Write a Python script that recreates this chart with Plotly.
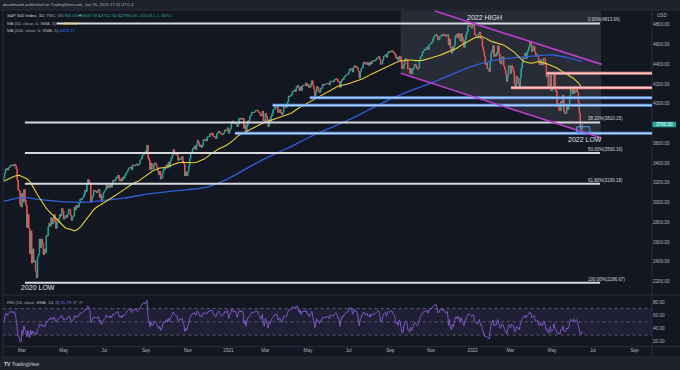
import numpy as np
import pandas as pd
import plotly.graph_objects as go

W, H = 680, 370

# ---------------- data (S&P 500 daily closes, read/estimated) ----------------
warm_close = [3122, 3120, 3108, 3104, 3110, 3134, 3141, 3153, 3141,
              3114, 3093, 3113, 3117, 3146, 3136, 3133, 3142, 3169, 3169, 3191, 3192, 3191, 3206, 3221, 3224, 3223, 3240, 3240, 3221, 3231,
              3258, 3235, 3246, 3237, 3253, 3275, 3265, 3288, 3283, 3289, 3317, 3330, 3321, 3321, 3326, 3295, 3244, 3276, 3273, 3284, 3226]

close_2020 = [
    3248, 3298, 3335, 3345, 3328, 3352, 3358, 3379, 3374, 3380, 3370, 3386, 3373, 3338, 3226, 3128, 3116, 2979, 2954,
    3090, 3003, 3130, 3024, 2972, 2747, 2882, 2741, 2481, 2711, 2386, 2529, 2398, 2409, 2305, 2237, 2447, 2476, 2630, 2541, 2627, 2585,
    2471, 2527, 2489, 2664, 2659, 2750, 2790, 2762, 2846, 2783, 2800, 2875, 2823, 2737, 2799, 2798, 2837, 2878, 2863, 2940, 2912,
    2831, 2843, 2868, 2849, 2882, 2930, 2930, 2870, 2820, 2852, 2864, 2954, 2923, 2972, 2949, 2955, 2992, 3036, 3030, 3044,
    3056, 3081, 3123, 3112, 3194, 3232, 3207, 3190, 3002, 3041, 3067, 3125, 3114, 3116, 3098, 3118, 3131, 3050, 3084, 3009, 3053, 3100,
    3116, 3130, 3180, 3145, 3169, 3152, 3185, 3155, 3197, 3227, 3216, 3225, 3251, 3258, 3276, 3236, 3216, 3239, 3218, 3258, 3246, 3271,
    3295, 3306, 3327, 3349, 3351, 3360, 3333, 3380, 3373, 3373, 3382, 3390, 3375, 3386, 3397, 3431, 3443, 3479, 3485, 3508, 3500,
    3527, 3580, 3455, 3427, 3331, 3399, 3340, 3341, 3383, 3401, 3385, 3357, 3319, 3281, 3315, 3237, 3246, 3298, 3351, 3335, 3363,
    3381, 3348, 3408, 3361, 3419, 3446, 3477, 3535, 3512, 3489, 3483, 3484, 3427, 3443, 3436, 3453, 3465, 3401, 3391, 3271, 3310, 3270,
    3310, 3370, 3443, 3510, 3509, 3550, 3545, 3573, 3537, 3585, 3627, 3610, 3568, 3582, 3558, 3578, 3635, 3630, 3638, 3622,
    3662, 3669, 3666, 3699, 3692, 3702, 3673, 3668, 3663, 3647, 3695, 3702, 3722, 3709, 3695, 3687, 3690, 3703, 3735, 3727, 3732, 3756]

close_2021 = [
    3701, 3726, 3748, 3804, 3825, 3799, 3801, 3810, 3795, 3768, 3798, 3852, 3853, 3841, 3855, 3850, 3750, 3787, 3714,
    3774, 3826, 3830, 3872, 3887, 3915, 3911, 3910, 3916, 3934, 3933, 3932, 3913, 3907, 3877, 3881, 3925, 3829, 3811,
    3901, 3871, 3820, 3768, 3842, 3821, 3875, 3898, 3939, 3943, 3969, 3963, 3974, 3915, 3913, 3940, 3911, 3889, 3910, 3975, 3971, 3959, 3973,
    4020, 4078, 4074, 4080, 4097, 4129, 4128, 4142, 4125, 4170, 4185, 4163, 4135, 4173, 4135, 4180, 4188, 4187, 4184, 4211, 4181,
    4192, 4164, 4168, 4201, 4233, 4189, 4153, 4063, 4113, 4174, 4164, 4128, 4116, 4159, 4156, 4197, 4188, 4196, 4200, 4204,
    4202, 4208, 4192, 4230, 4227, 4227, 4220, 4239, 4247, 4255, 4246, 4224, 4222, 4166, 4224, 4246, 4241, 4266, 4281, 4291, 4292, 4298,
    4320, 4352, 4344, 4358, 4321, 4370, 4385, 4369, 4375, 4360, 4327, 4259, 4323, 4359, 4368, 4412, 4422, 4402, 4401, 4419, 4395,
    4387, 4423, 4402, 4429, 4437, 4432, 4437, 4447, 4460, 4468, 4479, 4449, 4400, 4406, 4442, 4480, 4486, 4497, 4470, 4509, 4529, 4523,
    4524, 4537, 4535, 4520, 4514, 4493, 4459, 4469, 4443, 4481, 4474, 4433, 4358, 4355, 4396, 4449, 4455, 4443, 4353, 4360, 4308,
    4357, 4301, 4346, 4364, 4400, 4391, 4361, 4351, 4364, 4438, 4471, 4486, 4520, 4537, 4550, 4545, 4567, 4575, 4551, 4597, 4605,
    4614, 4631, 4660, 4680, 4697, 4702, 4686, 4647, 4650, 4683, 4683, 4701, 4689, 4705, 4698, 4683, 4691, 4701, 4595, 4656, 4567,
    4513, 4577, 4538, 4592, 4687, 4701, 4668, 4712, 4669, 4635, 4710, 4669, 4621, 4568, 4649, 4697, 4726, 4791, 4786, 4793, 4778, 4766]

close_2022 = [
    4797, 4794, 4701, 4696, 4677, 4670, 4713, 4726, 4660, 4663, 4577, 4533, 4483, 4398, 4410, 4357, 4350, 4327, 4432, 4516,
    4546, 4590, 4478, 4501, 4484, 4522, 4587, 4504, 4419, 4402, 4472, 4475, 4380, 4349, 4305, 4226, 4288, 4385, 4374,
    4306, 4387, 4364, 4329, 4201, 4171, 4278, 4260, 4204, 4173, 4263, 4358, 4412, 4463, 4461, 4512, 4457, 4520, 4543, 4576, 4632, 4603, 4530,
    4546, 4583, 4525, 4481, 4500, 4488, 4413, 4397, 4447, 4393, 4392, 4463, 4459, 4394, 4272, 4296, 4175, 4184, 4288, 4132,
    4155, 4175, 4301, 4147, 4123, 3991, 4001, 3935, 3930, 4024, 4008, 4088, 3924, 3901, 3901, 3974, 3941, 3979, 4058, 4158, 4132,
    4101, 4176, 4109, 4121, 4161, 4116, 4018, 3901, 3750, 3735, 3790]

# trading days per month, Feb 2020 .. Aug 2022 (bar-index time axis)
month_lengths = [19, 22, 21, 20, 22, 22, 21, 21, 22, 20, 22,
                 19, 19, 23, 21, 20, 22, 21, 22, 21, 21, 21, 22,
                 20, 19, 23, 20, 21, 21, 20, 23]
tick_labels = ["Mar", "May", "Jul", "Sep", "Nov", "2021", "Mar", "May", "Jul", "Sep", "Nov",
               "2022", "Mar", "May", "Jul", "Sep"]

# 200-day SMA read at month starts (bar index, value)
ma200_idx = [0, 19, 41, 62, 82, 104, 126, 147, 168, 190, 210, 232, 251, 270, 293, 314,
             334, 356, 377, 399, 420, 441, 462, 484, 504, 523, 546, 566, 587, 597]
ma200_val = [3011, 3049, 3025, 3006, 3002, 3021, 3046, 3084, 3108, 3129, 3156, 3242, 3345, 3446, 3549, 3653,
             3742, 3836, 3939, 4047, 4134, 4209, 4296, 4381, 4435, 4462, 4483, 4494, 4455, 4429]

fib_pct = ["0.00%", "38.20%", "50.00%", "61.80%", "100.00%"]
fib_val = [4813.66, 3810.15, 3500.16, 3190.18, 2186.67]
blue_levels = [4061, 3984, 3700]
blue_start = [316, 277.6, 238.7]
red_levels = [4308, 4162]
red_start = [560.4, 523.5]
price_ticks = [2200, 2400, 2600, 2800, 3000, 3200, 3400, 3600, 4000, 4200, 4400, 4600, 4800]
rsi_ticks = [20, 40, 60, 80]

# ---------------- derived series ----------------
allc = pd.Series(warm_close + close_2020 + close_2021 + close_2022, dtype=float)
nw = len(warm_close)
opn = allc.shift(1)
ma50 = allc.rolling(50).mean()
d = allc.diff()
up = d.clip(lower=0).ewm(alpha=1 / 14, adjust=False).mean()
dn = (-d.clip(upper=0)).ewm(alpha=1 / 14, adjust=False).mean()
rsi = 100 - 100 / (1 + up / dn)

c = allc.iloc[nw:].to_numpy()
o = opn.iloc[nw:].to_numpy()
hi = np.maximum(o, c)
lo = np.minimum(o, c)
xi = np.arange(len(c))
m50 = ma50.iloc[nw:].to_numpy()
r = rsi.iloc[nw:].to_numpy()

starts = np.concatenate([[0], np.cumsum(month_lengths)])
tick_vals = starts[1::2]

# ---------------- geometry ----------------
XL, XR = 3, 652
def px(x):
    return x / W
def py(y):
    return 1 - y / H

BG = "#131722"
TXT = "#b2b5be"
FONT = "Liberation Sans"
GREEN = "#26a69a"
RED = "#ef5350"

fig = go.Figure()

fig.add_trace(go.Candlestick(
    x=xi, open=o, high=hi, low=lo, close=c,
    increasing=dict(line=dict(color=GREEN, width=1), fillcolor=GREEN),
    decreasing=dict(line=dict(color=RED, width=1), fillcolor=RED),
    whiskerwidth=0, xaxis="x", yaxis="y", hoverinfo="skip"))

fig.add_trace(go.Scatter(x=ma200_idx, y=ma200_val, mode="lines",
                         line=dict(color="#2f5fd8", width=1.3, shape="spline", smoothing=0.8),
                         xaxis="x", yaxis="y", hoverinfo="skip"))
fig.add_trace(go.Scatter(x=xi, y=m50, mode="lines",
                         line=dict(color="#e6cf3c", width=1.1),
                         xaxis="x", yaxis="y", hoverinfo="skip"))

# RSI pane
fig.add_trace(go.Scatter(x=xi, y=r, mode="lines", line=dict(color="#7e57c2", width=1),
                         xaxis="x2", yaxis="y2", hoverinfo="skip"))

shapes = []
# header / footer strips
shapes.append(dict(type="rect", xref="paper", yref="paper", x0=0, x1=1, y0=py(10), y1=1,
                   fillcolor="#1e222d", line=dict(width=0), layer="below"))
shapes.append(dict(type="rect", xref="paper", yref="paper", x0=0, x1=1, y0=0, y1=py(357),
                   fillcolor="#1e222d", line=dict(width=0), layer="below"))
# frame lines
for (x0, y0, x1, y1) in [(XL, 10, XL, 357), (XR, 10, XR, 357), (XL, 295, W, 295), (XL, 346.7, W, 346.7),
                         (0, 10, W, 10), (XL, 357, W, 357)]:
    shapes.append(dict(type="line", xref="paper", yref="paper", x0=px(x0), x1=px(x1), y0=py(y0), y1=py(y1),
                       line=dict(color="#2a2e39", width=1), layer="above"))

# grey channel background
shapes.append(dict(type="path", xref="x", yref="y",
                   path="M 409.7,4939 L 616.4,4939 L 616.4,3656 L 409.7,4308 Z",
                   fillcolor="rgba(125,128,140,0.20)", line=dict(width=0), layer="below"))

# fib levels
for v in fib_val:
    shapes.append(dict(type="line", xref="x", yref="y", x0=22, x1=615.4, y0=v, y1=v,
                       line=dict(color="#d8d9de", width=2), layer="above"))
# blue supports
for v, s in zip(blue_levels, blue_start):
    shapes.append(dict(type="line", xref="x", yref="y", x0=s, x1=672, y0=v, y1=v,
                       line=dict(color="#5d98f2", width=3), layer="above"))
    shapes.append(dict(type="line", xref="x", yref="y", x0=s, x1=672, y0=v, y1=v,
                       line=dict(color="#c9dcfb", width=1), layer="above"))
# red resistances
for v, s in zip(red_levels, red_start):
    shapes.append(dict(type="line", xref="x", yref="y", x0=s, x1=672, y0=v, y1=v,
                       line=dict(color="#ee8a8a", width=3), layer="above"))
    shapes.append(dict(type="line", xref="x", yref="y", x0=s, x1=672, y0=v, y1=v,
                       line=dict(color="#fbdada", width=1), layer="above"))
# purple channel
shapes.append(dict(type="line", xref="x", yref="y", x0=445.1, y0=4939, x1=617.1, y1=4399,
                   line=dict(color="#b73fcb", width=1.6), layer="above"))
shapes.append(dict(type="line", xref="x", yref="y", x0=409.7, y0=4308, x1=616.2, y1=3656,
                   line=dict(color="#b73fcb", width=1.6), layer="above"))
# small range box near 2022 low
shapes.append(dict(type="rect", xref="x", yref="y", x0=591.3, x1=605, y0=3703, y1=3767,
                   line=dict(color="#5d98f2", width=1), fillcolor="rgba(93,152,242,0.12)", layer="above"))
# RSI band + levels
shapes.append(dict(type="rect", xref="x2", yref="y2", x0=-1, x1=672, y0=30, y1=70,
                   fillcolor="rgba(126,87,194,0.12)", line=dict(width=0), layer="below"))
for v in [70, 50, 30]:
    shapes.append(dict(type="line", xref="x2", yref="y2", x0=-1, x1=672, y0=v, y1=v,
                       line=dict(color="#5d606b", width=1, dash="dot"), layer="below"))
# last price tag
shapes.append(dict(type="rect", xref="paper", yref="y", x0=px(652.5), x1=px(676), y0=3790 - 28, y1=3790 + 28,
                   fillcolor=GREEN, line=dict(width=0), layer="above"))

ann = []
def A(text, x, y, size=5, color=TXT, xanchor="left", yanchor="middle", xref="paper", yref="paper", bg=None):
    d_ = dict(text=text, x=x, y=y, xref=xref, yref=yref, showarrow=False, xanchor=xanchor, yanchor=yanchor,
              font=dict(size=size, color=color, family=FONT), borderpad=0)
    if bg:
        d_["bgcolor"] = bg
    ann.append(d_)

A("dacolmanfx published on TradingView.com, Jun 15, 2022 17:11 UTC-4", px(2), py(4.5), size=4.2)
g = lambda s: f"<span style='color:{GREEN}'>{s}</span>"
A("S&P 500 Index, 1D, TVC  O" + g("3764.05") + " H" + g("3837.56") + " L" + g("3722.30") + " C" + g("3790.00")
  + " " + g("+54.53 (+1.46%)"), px(6), py(15.5), size=4.4, color="#d1d4dc")
A("MA (50, close, 0, SMA, 5)", px(6), py(23), size=4.3, color=TXT, bg=BG)
A("4153.47", px(62), py(23), size=4.3, color="#e6cf3c")
A("MA (200, close, 0, SMA, 5) <span style='color:#3d6ff0'>4429.12</span>", px(6), py(30), size=4.3, color=TXT)
A("RSI (14, close, SMA, 14, 2) <span style='color:#8e6ad8'>35.79</span>  ∅  ∅", px(6), py(302), size=4.3, color=TXT)

for p, v in zip(fib_pct, fib_val):
    A(f"{p}({v:.2f})", 602, v, size=4.5, color="#d1d4dc", xref="x", yref="y", yanchor="bottom")

A("2022 HIGH", 495.7, 4876, size=7, color="#e0e3eb", xanchor="center", xref="x", yref="y")
A("2022 LOW", 599.4, 3640, size=7, color="#e0e3eb", xanchor="center", xref="x", yref="y")
A("2020 LOW", 36, 2136, size=7, color="#e0e3eb", xanchor="center", xref="x", yref="y")

A("3790.00", px(664.3), 3790, size=4.6, color="#ffffff", xanchor="center", yref="y")
A("USD", px(656), py(15.7), size=4.6)
A("<b>TV</b> TradingView", px(3), py(363.5), size=5, color="#d1d4dc")

fig.update_layout(
    width=W, height=H, margin=dict(l=0, r=0, t=0, b=0),
    paper_bgcolor=BG, plot_bgcolor=BG, showlegend=False, hovermode=False,
    shapes=shapes, annotations=ann,
    xaxis=dict(domain=[px(XL), px(XR)], range=[-0.62, 669], showticklabels=False, showgrid=False,
               zeroline=False, rangeslider=dict(visible=False), anchor="y", showline=False),
    yaxis=dict(domain=[py(295), py(10)], range=[2062, 4950], side="right", anchor="x",
               tickvals=price_ticks, ticktext=[f"{t:.2f}" for t in price_ticks],
               tickfont=dict(size=4.6, color=TXT, family=FONT), showgrid=False, zeroline=False, ticks=""),
    xaxis2=dict(domain=[px(XL), px(XR)], range=[-0.62, 669], matches="x", anchor="y2",
                tickvals=tick_vals, ticktext=tick_labels, tickfont=dict(size=4.6, color=TXT, family=FONT),
                showgrid=False, zeroline=False, ticks=""),
    yaxis2=dict(domain=[py(346.7), py(295)], range=[12.4, 90.6], side="right", anchor="x2",
                tickvals=rsi_ticks, ticktext=[f"{t:.2f}" for t in rsi_ticks],
                tickfont=dict(size=4.6, color=TXT, family=FONT), showgrid=False, zeroline=False, ticks=""),
)

fig.write_html("out.html", config={"displayModeBar": False},
               post_script="document.body.style.margin='0';document.body.style.padding='0';")
